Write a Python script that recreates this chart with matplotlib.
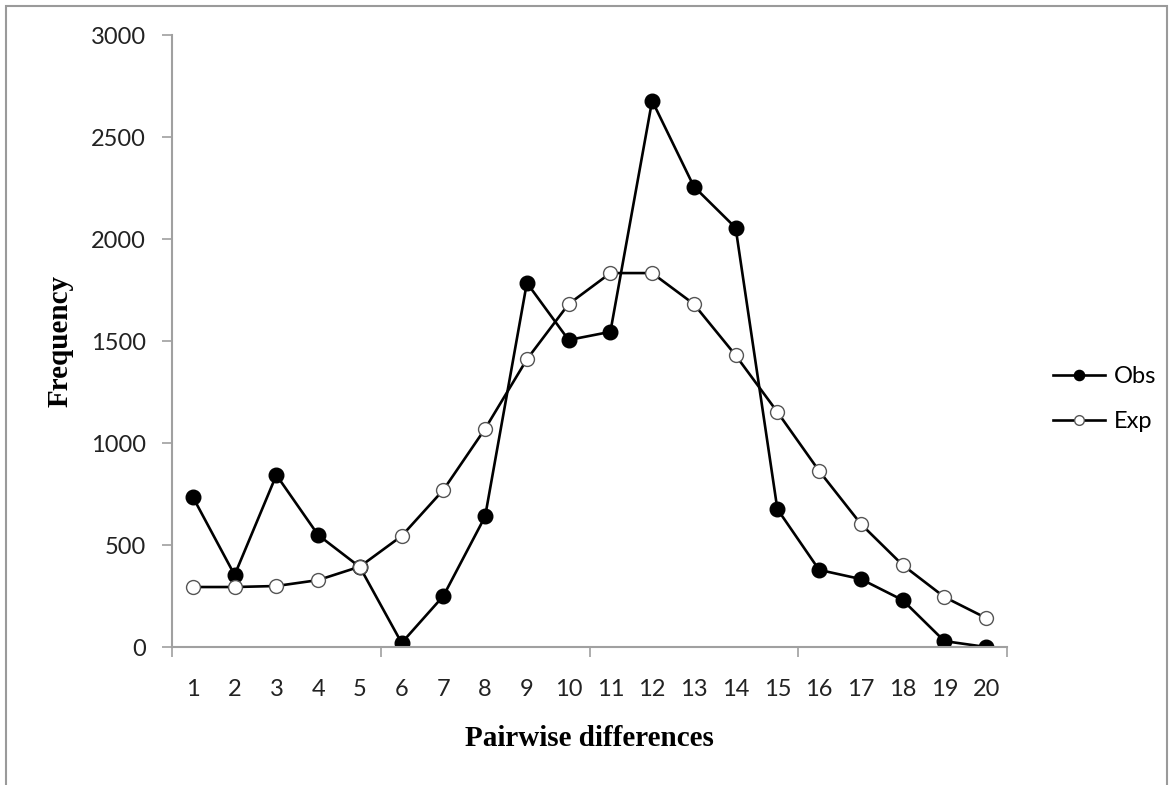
import matplotlib.pyplot as plt
import numpy as np
from matplotlib.patches import Rectangle

differences = list(range(1, 21))
obs = [735, 353, 843, 549, 392, 20, 250, 640, 1785, 1505,
       1545, 2678, 2257, 2055, 676, 378, 333, 230, 29, 0]
exp = [294, 294, 299, 328, 394, 544, 770, 1070, 1410, 1681,
       1833, 1833, 1681, 1430, 1152, 863, 603, 402, 245, 142]
y_ticks = [0, 500, 1000, 1500, 2000, 2500, 3000]

fig = plt.figure(figsize=(11.76, 7.85), dpi=100)
ax = fig.add_axes([172 / 1176, 1 - 647 / 785, (1007 - 172) / 1176, (647 - 35) / 785])

# outer frame of the original picture
fig.patches.append(Rectangle((6 / 1176, -0.01), (1167 - 6) / 1176, 1 - 6 / 785 + 0.01,
                             transform=fig.transFigure, fill=False,
                             edgecolor='#9a9a9a', linewidth=1.5))

ax.plot(differences, obs, color='black', lw=1.9, marker='o', markersize=10.5,
        markerfacecolor='black', markeredgecolor='black', label='Obs')
ax.plot(differences, exp, color='black', lw=1.9, marker='o', markersize=10,
        markerfacecolor='white', markeredgecolor='#555555', markeredgewidth=1.0,
        label='Exp')

ax.set_xlim(0.5, 20.5)
ax.set_ylim(0, 3000)
ax.set_yticks(y_ticks)
ax.set_xticks(differences)
ax.set_xticks([0.5, 5.5, 10.5, 15.5, 20.5], minor=True)
ax.tick_params(axis='x', which='major', length=0, pad=23, labelsize=17)
ax.tick_params(axis='x', which='minor', length=7, width=1.2, color='#a0a0a0', direction='out')
ax.tick_params(axis='y', length=7, width=1.2, color='#a0a0a0', direction='out', pad=12,
               labelsize=17)
for lab in ax.get_xticklabels() + ax.get_yticklabels():
    lab.set_fontfamily('Lato')
    lab.set_color('#222222')

for s in ['top', 'right']:
    ax.spines[s].set_visible(False)
for s in ['left', 'bottom']:
    ax.spines[s].set_color('#a0a0a0')
    ax.spines[s].set_linewidth(1.5)

ax.set_ylabel('Frequency', family='Liberation Serif', fontweight='bold', fontsize=21, labelpad=12)
ax.set_xlabel('Pairwise differences', family='Liberation Serif', fontweight='bold', fontsize=21,
              labelpad=18)

leg = ax.legend(loc='center left', bbox_to_anchor=(1.03, 0.405), frameon=False,
                prop={'family': 'Lato', 'size': 17}, markerscale=0.7,
                handlelength=2.2, labelspacing=1.0, handletextpad=0.35)

fig.savefig('out.png', dpi=100)
